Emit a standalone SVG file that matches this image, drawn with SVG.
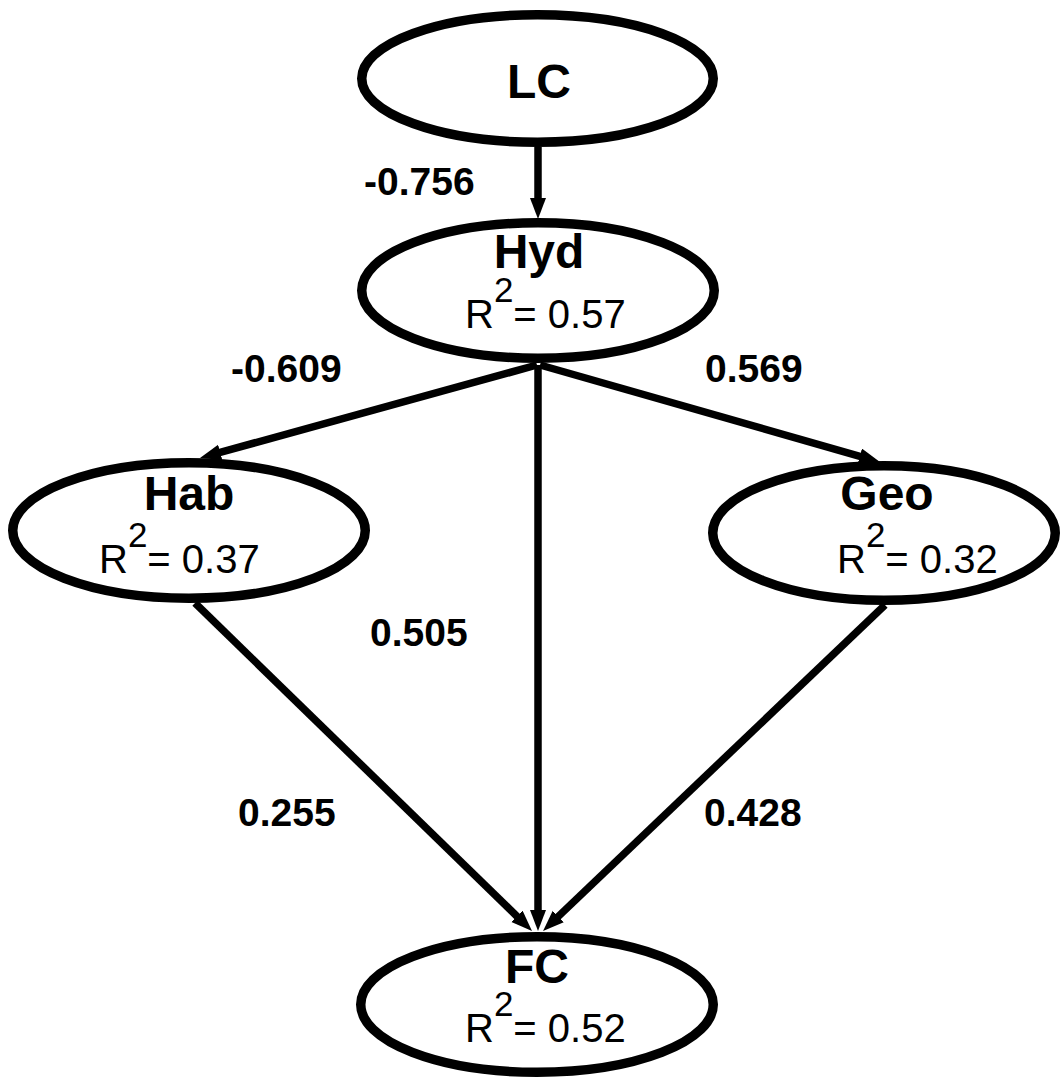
<svg xmlns="http://www.w3.org/2000/svg" width="1061" height="1079" viewBox="0 0 1061 1079">
<style>
.node{fill:#fff;stroke:#000;stroke-width:9.5}
.edge{stroke:#000;stroke-width:7.5;fill:none}
.title{font-family:"Liberation Sans",Arial,sans-serif;font-weight:bold;font-size:48px;text-anchor:middle;fill:#000}
.r2{font-family:"Liberation Sans",Arial,sans-serif;font-size:40px;fill:#000}
.sup{font-size:35px}
.lbl{font-family:"Liberation Sans",Arial,sans-serif;font-weight:bold;font-size:39px;fill:#000}
</style>
<defs>
<marker id="arr" markerUnits="userSpaceOnUse" markerWidth="23" markerHeight="18" refX="2" refY="8" orient="auto">
<path d="M0,0 L21,8 L0,16 Z" fill="#000"/>
</marker>
</defs>
<rect width="1061" height="1079" fill="#fff"/>
<g id="connectors">
<line class="edge" x1="538" y1="147" x2="538" y2="200" marker-end="url(#arr)"/>
<line class="edge" x1="537" y1="365" x2="218.3" y2="452.9" marker-end="url(#arr)"/>
<line class="edge" x1="538" y1="365" x2="538" y2="912" marker-end="url(#arr)"/>
<line class="edge" x1="540" y1="365" x2="861.7" y2="456.8" marker-end="url(#arr)"/>
<line class="edge" x1="195" y1="603" x2="518.4" y2="917.7" marker-end="url(#arr)"/>
<line class="edge" x1="885" y1="605" x2="556.8" y2="917.9" marker-end="url(#arr)"/>
</g>
<g id="LC">
<ellipse class="node" cx="537.5" cy="78.5" rx="175.75" ry="63.75"/>
<text class="title" x="539" y="98">LC</text>
</g>
<g id="Hyd">
<ellipse class="node" cx="538" cy="290.5" rx="176.25" ry="67.75"/>
<text class="title" x="539" y="268">Hyd</text>
<text class="r2" x="465" y="328">R<tspan class="sup" dy="-26">2</tspan><tspan dy="26">= 0.57</tspan></text>
</g>
<g id="Hab">
<ellipse class="node" cx="189" cy="530.5" rx="176.25" ry="67.75"/>
<text class="title" x="189" y="510">Hab</text>
<text class="r2" x="99" y="573">R<tspan class="sup" dy="-26">2</tspan><tspan dy="26">= 0.37</tspan></text>
</g>
<g id="Geo">
<ellipse class="node" cx="884" cy="533" rx="171.25" ry="67.25"/>
<text class="title" x="887" y="510">Geo</text>
<text class="r2" x="837" y="573">R<tspan class="sup" dy="-26">2</tspan><tspan dy="26">= 0.32</tspan></text>
</g>
<g id="FC">
<ellipse class="node" cx="537" cy="1004.5" rx="176.25" ry="67.75"/>
<text class="title" x="537" y="983">FC</text>
<text class="r2" x="465" y="1042">R<tspan class="sup" dy="-26">2</tspan><tspan dy="26">= 0.52</tspan></text>
</g>
<g id="labels">
<text class="lbl" x="364" y="195">-0.756</text>
<text class="lbl" x="231" y="382">-0.609</text>
<text class="lbl" x="705" y="382">0.569</text>
<text class="lbl" x="370" y="646">0.505</text>
<text class="lbl" x="238" y="826">0.255</text>
<text class="lbl" x="704" y="826">0.428</text>
</g>
</svg>
